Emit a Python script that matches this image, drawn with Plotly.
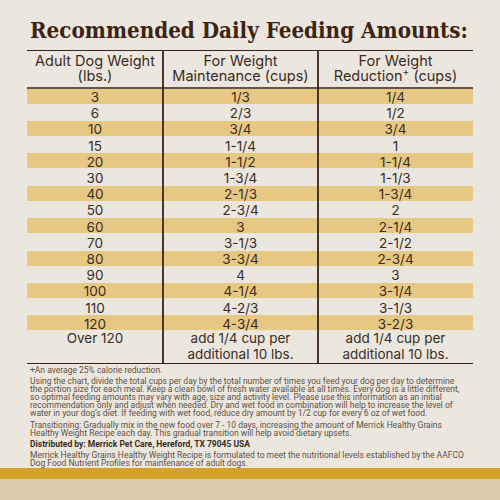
import plotly.graph_objects as go

# ---- data ----
title_text = "Recommended Daily Feeding Amounts:"
header_labels = ["Adult Dog Weight<br>(lbs.)",
                 "For Weight<br>Maintenance (cups)",
                 "For Weight<br>Reduction<sup>+</sup> (cups)"]
weights = ["3", "6", "10", "15", "20", "30", "40", "50", "60", "70",
           "80", "90", "100", "110", "120", "Over 120"]
maintenance = ["1/3", "2/3", "3/4", "1-1/4", "1-1/2", "1-3/4", "2-1/3", "2-3/4",
               "3", "3-1/3", "3-3/4", "4", "4-1/4", "4-2/3", "4-3/4",
               "add 1/4 cup per<br>additional 10 lbs."]
reduction = ["1/4", "1/2", "3/4", "1", "1-1/4", "1-1/3", "1-3/4", "2",
             "2-1/4", "2-1/2", "2-3/4", "3", "3-1/4", "3-1/3", "3-2/3",
             "add 1/4 cup per<br>additional 10 lbs."]
footnote_lines = [
    "+An average 25% calorie reduction.",
    "Using the chart, divide the total cups per day by the total number of times you feed your dog per day to determine",
    "the portion size for each meal. Keep a clean bowl of fresh water available at all times. Every dog is a little different,",
    "so optimal feeding amounts may vary with age, size and activity level. Please use this information as an initial",
    "recommendation only and adjust when needed. Dry and wet food in combination will help to increase the level of",
    "water in your dog’s diet. If feeding with wet food, reduce dry amount by 1/2 cup for every 6 oz of wet food.",
    "Transitioning: Gradually mix in the new food over 7 - 10 days, increasing the amount of Merrick Healthy Grains",
    "Healthy Weight Recipe each day. This gradual transition will help avoid dietary upsets.",
    "<b>Distributed by: Merrick Pet Care, Hereford, TX 79045 USA</b>",
    "Merrick Healthy Grains Healthy Weight Recipe is formulated to meet the nutritional levels established by the AAFCO",
    "Dog Food Nutrient Profiles for maintenance of adult dogs.",
]
footnote_y = [370, 381, 389, 397, 405, 413, 425, 433, 444, 455, 463]

# ---- style / layout constants ----
W, H = 500, 500
BG = "#ebe7de"
GOLD = "#e6c882"
BROWN = "#3a2415"
TEXT = "#3b2b1f"
NOTE = "#5e5146"
FONT = "Inter"
FSIZE = 13.5
HSIZE = 14.5
col_w = [136, 155, 155]
table_left, table_top, table_bottom = 27, 50, 364   # px
row_px = 16.2            # px per body row
header_px = 38           # header height in px
last_px = table_bottom - table_top - header_px - row_px * (len(weights) - 1)
line_gap = 15.5 / row_px  # gap between wrapped lines, in row units

n_main = len(weights) - 1
y_top = -0.5 - header_px / row_px
y_bot = n_main - 0.5 + last_px / row_px
col_edges = [0]
for w in col_w:
    col_edges.append(col_edges[-1] + w)
col_centers = [(col_edges[i] + col_edges[i + 1]) / 2 for i in range(len(col_w))]

fig = go.Figure()

# stripes (every other body row)
stripe_rows = [i for i in range(n_main) if i % 2 == 0]
fig.add_trace(go.Bar(y=stripe_rows, x=[col_edges[-1]] * len(stripe_rows), base=0,
                     orientation="h", width=0.93, marker=dict(color=GOLD, line_width=0),
                     hoverinfo="skip"))

def add_text(xc, ys, texts, size=FSIZE, color=TEXT, family=FONT):
    fig.add_trace(go.Scatter(x=[xc] * len(ys), y=ys, text=texts, mode="text",
                             textposition="middle center",
                             textfont=dict(family=family, size=size, color=color),
                             hoverinfo="skip"))

for c, col in enumerate([weights, maintenance, reduction]):
    xs_y, xs_t = [], []
    for i, v in enumerate(col):
        parts = v.split("<br>")
        base_y = i + (0.05 if i == n_main else 0.15)
        for k, p in enumerate(parts):
            xs_y.append(base_y + k * line_gap)
            xs_t.append(p)
    add_text(col_centers[c], xs_y, xs_t)
    # header lines
    hparts = header_labels[c].split("<br>")
    hy0 = y_top + 12 / row_px
    add_text(col_centers[c], [hy0 + k * line_gap for k in range(len(hparts))], hparts,
             size=HSIZE)

# table rules
shapes = [
    dict(type="rect", xref="paper", yref="paper", x0=0, x1=1,
         y0=1 - 479 / H, y1=1 - 468 / H, fillcolor="#d4a12a", line_width=0, layer="below"),
    dict(type="rect", xref="paper", yref="paper", x0=0, x1=1,
         y0=0, y1=1 - 479 / H, fillcolor="#dccbab", line_width=0, layer="below"),
]
for yy, lw in [(y_top, 2.2), (-0.5, 1.6), (y_bot, 2.2)]:
    shapes.append(dict(type="line", xref="x", yref="y", x0=col_edges[0], x1=col_edges[-1],
                       y0=yy, y1=yy, line=dict(color=BROWN, width=lw)))
for xe in col_edges[1:-1]:
    shapes.append(dict(type="line", xref="x", yref="y", x0=xe, x1=xe,
                       y0=y_top, y1=y_bot, line=dict(color=BROWN, width=1.8)))

annotations = [dict(text="<b>" + title_text + "</b>", x=28 / W, y=1 - 30 / H,
                    xref="paper", yref="paper", showarrow=False,
                    xanchor="left", yanchor="middle",
                    font=dict(family="DejaVu Serif Condensed", size=22.2, color="#3d2314"))]
for t, yy in zip(footnote_lines, footnote_y):
    annotations.append(dict(text=t, x=28 / W, y=1 - yy / H, xref="paper", yref="paper",
                            showarrow=False, xanchor="left", yanchor="middle",
                            font=dict(family="Roboto", size=8.5,
                                      color=TEXT if t.startswith("<b>") else NOTE)))

fig.update_layout(
    width=W, height=H, margin=dict(l=0, r=0, t=0, b=0),
    paper_bgcolor=BG, plot_bgcolor="rgba(0,0,0,0)",
    xaxis=dict(domain=[table_left / W, (table_left + col_edges[-1]) / W],
               range=[col_edges[0], col_edges[-1]], visible=False, fixedrange=True),
    yaxis=dict(domain=[1 - table_bottom / H, 1 - table_top / H],
               range=[y_bot, y_top], visible=False, fixedrange=True),
    shapes=shapes, annotations=annotations, showlegend=False, bargap=0,
    hovermode=False,
)
fig.write_html("out.html", config={"displayModeBar": False, "staticPlot": True},
               post_script="document.body.style.margin='0';document.body.style.background='"
                           + BG + "';")
